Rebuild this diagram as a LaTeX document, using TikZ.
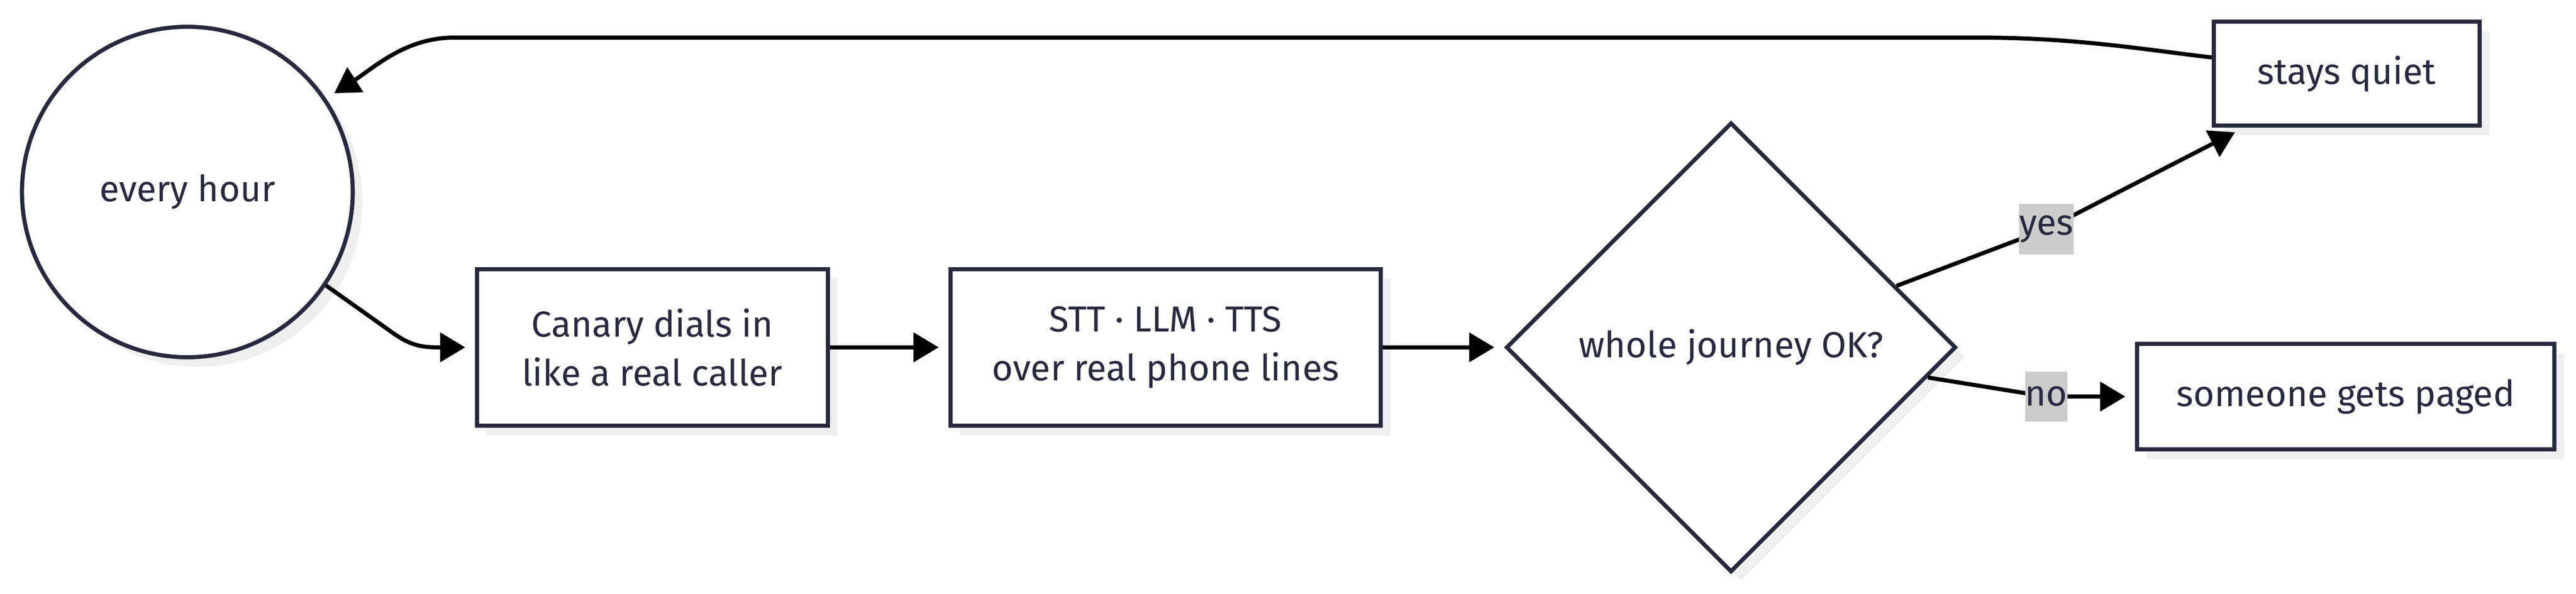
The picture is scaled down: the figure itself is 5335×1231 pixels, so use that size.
\documentclass[tikz,border=0pt]{standalone}
\usepackage{fontspec}
\setmainfont{Fira Sans}
\usetikzlibrary{arrows.meta,shapes.geometric,shadows,calc}
\definecolor{ink}{HTML}{28283E}
\definecolor{shadowc}{HTML}{EFEFEF}
\definecolor{lblbg}{HTML}{CCCCCC}
\begin{document}
\begin{tikzpicture}[x=0.2pt,y=-0.2pt,
  txt/.style={text=ink, font=\fontsize{15}{20.4}\selectfont},
  base/.style={txt, draw=ink, line width=1.7pt, fill=white, align=center, inner sep=0pt,
    drop shadow={shadow xshift=4pt, shadow yshift=-4pt, fill=shadowc, opacity=1}},
  conn/.style={draw=black, line width=1.7pt, -{Triangle[length=10.4pt,width=12pt]}, shorten >=4pt},
  lbl/.style={txt, fill=lblbg, inner xsep=0pt, inner ysep=0pt, minimum height=20.8pt}
]
\useasboundingbox (0,0) rectangle (5335,1231);
\node[base, circle, minimum size=137pt] (ev) at (388,398) {every hour};
\node[base, rectangle, minimum width=145.3pt, minimum height=64.9pt] (c1) at (1351,720) {Canary dials in\\like a real caller};
\node[base, rectangle, minimum width=178.3pt, minimum height=64.9pt] (c2) at (2414,720) {STT · LLM · TTS\\over real phone lines};
\node[base, diamond, minimum width=186.4pt, minimum height=186.4pt] (d) at (3585,720) {whole journey OK?};
\node[base, rectangle, minimum width=110.1pt, minimum height=43.1pt] (sq) at (4860,153) {stays quiet};
\node[base, rectangle, minimum width=172.9pt, minimum height=43.7pt] (pg) at (4858,822) {someone gets paged};

\coordinate (ym) at (4238,475);
\coordinate (nm) at (4238,822);

\draw[conn] (ev.-34) -- (805,684) .. controls (840,709) and (860,720) .. (905,720) -- (c1.west);
\draw[conn] (c1.east) -- (c2.west);
\draw[conn] (c2.east) -- (d.west);
\draw[conn] ($(d.north)!0.729!(d.east)$) -- (ym) -- ($(sq.south west)+(66,0)$);
\draw[conn] ($(d.east)!0.133!(d.south)$) -- (nm) -- (pg.west);
\draw[conn] ($(sq.west)+(0,-34)$) .. controls (4450,104) and (4300,78) .. (4104,78)
  -- (940,78) .. controls (840,78) and (775,140) .. (ev.34);

\node[lbl] (yl) at (ym) {yes};
\node[lbl] (nl) at (nm) {no};
\end{tikzpicture}
\end{document}
